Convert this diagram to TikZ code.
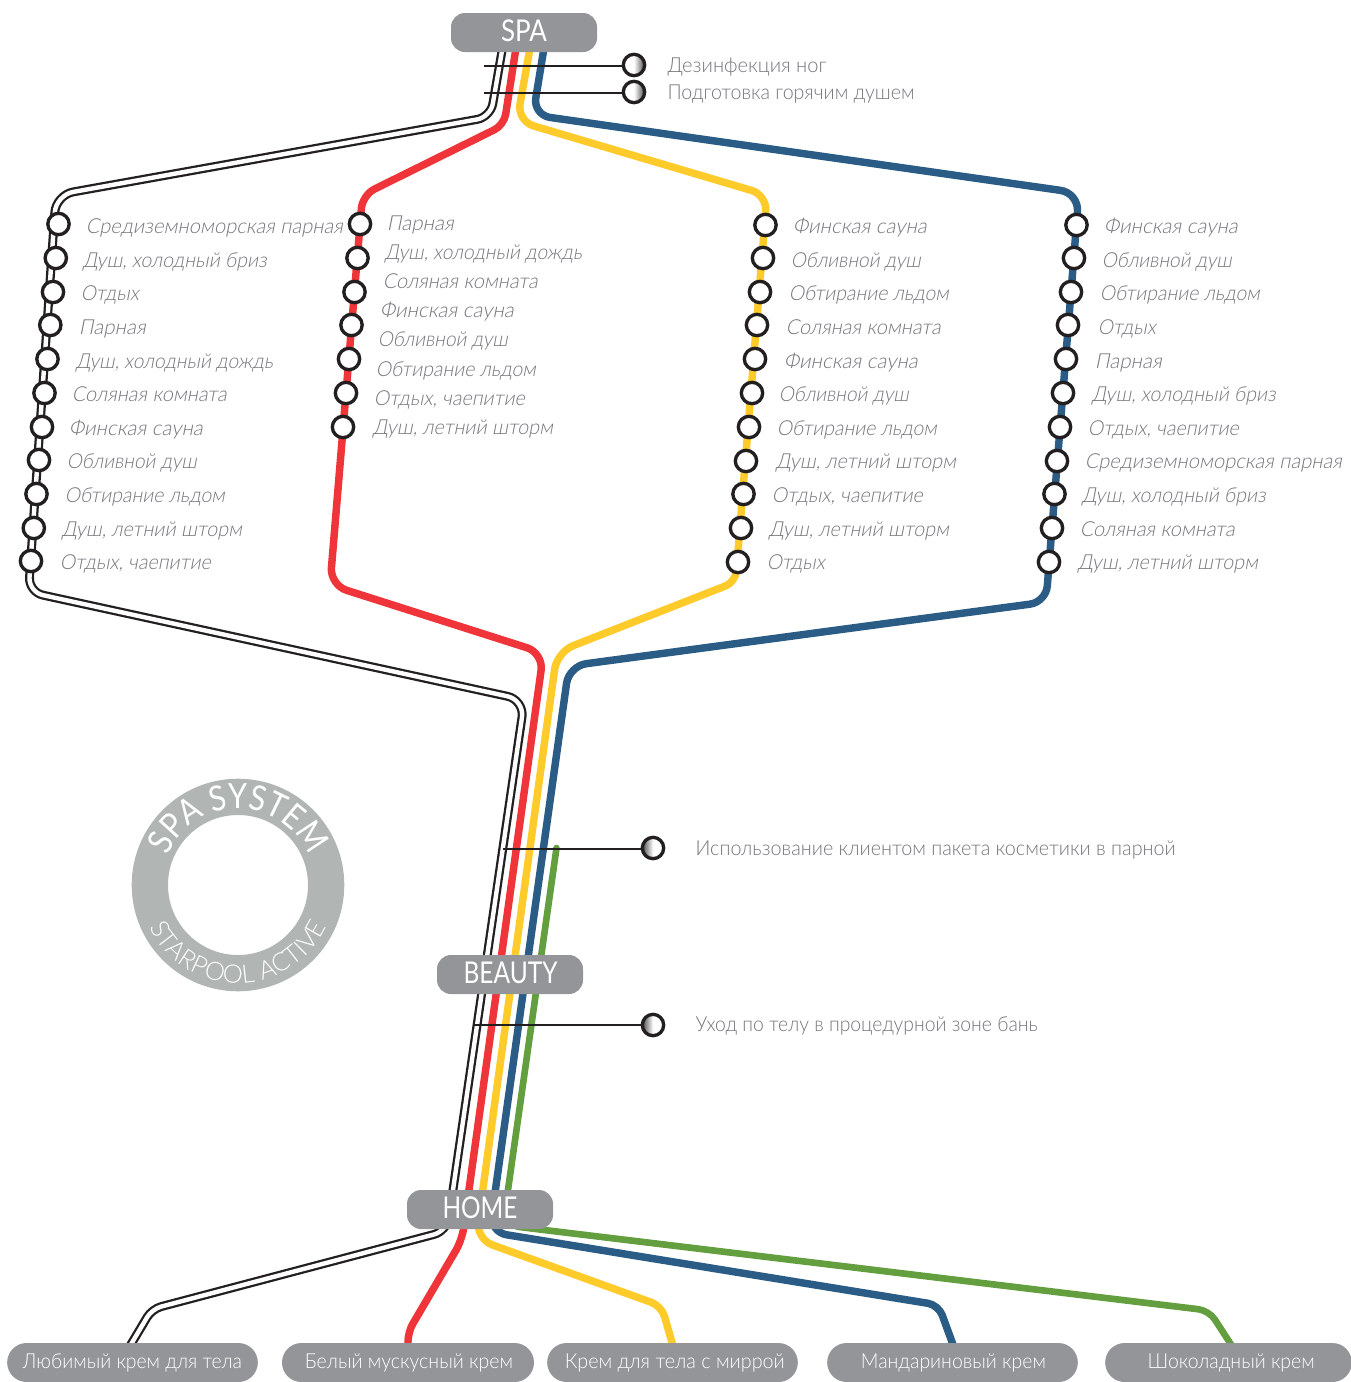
\documentclass[tikz,border=0pt]{standalone}
\usepackage{fontspec}
\usepackage{graphicx}
\setmainfont{Lato Light}
\newfontfamily\oblf[FakeSlant=0.2]{Lato Light}
\newfontfamily\pillf{Lato}
\newfontfamily\ringf[FakeStretch=0.88]{Lato}
\usetikzlibrary{decorations.text}
\definecolor{ink}{HTML}{231F20}
\definecolor{pillc}{HTML}{939598}
\definecolor{labc}{HTML}{737578}
\definecolor{redl}{HTML}{EF3539}
\definecolor{yell}{HTML}{FFCB2B}
\definecolor{blul}{HTML}{2A5C85}
\definecolor{grnl}{HTML}{649F3F}
\definecolor{ringc}{HTML}{B1B6B5}
\newdimen\pxu \pxu=0.75pt
\newcommand\fit[2]{\resizebox{#1\pxu}{\height}{#2}}
\newcommand\Sred{\fit{257}{Средиземноморская парная}}
\newcommand\Briz{\fit{184}{Душ, холодный бриз}}
\newcommand\Otd{\fit{58}{Отдых}}
\newcommand\Par{\fit{67}{Парная}}
\newcommand\Dozh{\fit{197}{Душ, холодный дождь}}
\newcommand\Sol{\fit{155}{Соляная комната}}
\newcommand\Fin{\fit{134}{Финская сауна}}
\newcommand\Obl{\fit{130}{Обливной душ}}
\newcommand\Obt{\fit{160}{Обтирание льдом}}
\newcommand\Sht{\fit{180}{Душ, летний шторм}}
\newcommand\Cha{\fit{151}{Отдых, чаепитие}}
\tikzset{
 metro/.style={line width=5.6pt},
 dbl/.style={draw=ink,line width=1.7pt,double=white,double distance=3.3pt},
 stn/.style={circle,draw=ink,line width=2.5pt,fill=white,minimum size=16pt,inner sep=0pt},
 ldr/.style={circle,draw=ink,line width=2.5pt,minimum size=16pt,inner sep=0pt},
 ldrR/.style={ldr,left color=white,right color=black!70,middle color=white},
 ldrL/.style={ldr,left color=black!70,right color=white,middle color=white},
 leader/.style={draw=ink,line width=1pt},
 pill/.style={rectangle,fill=pillc,text=white,minimum width=109.5pt,minimum height=29.25pt,inner sep=0pt,rounded corners=10.5pt,text height=16pt,text depth=2.2pt,font=\pillf\fontsize{22.5}{24}\selectfont},
 end/.style={rectangle,fill=pillc,text=white,minimum height=29.25pt,inner sep=0pt,rounded corners=14.6pt,text height=11.2pt,text depth=2pt,font=\fontsize{15.5}{18}\selectfont},
 lab/.style={anchor=base west,text=labc,inner sep=0pt,xshift=-1.1pt,yshift=-5.25pt,font=\oblf\fontsize{15.5}{18}\selectfont},
 note/.style={anchor=base west,text=labc,inner sep=0pt,xshift=-0.5pt,yshift=-5.25pt,font=\fontsize{15.5}{18}\selectfont},
}
\begin{document}
\begin{tikzpicture}[x=0.75pt,y=-0.75pt]
\useasboundingbox (0,0) rectangle (1351,1382);
% ring
\begin{scope}[shift={(238,885)},x=0.75pt,y=0.75pt]
\path[fill=ringc,even odd rule] (0,0) circle[radius=106.3] circle[radius=70];
\path[decorate,decoration={text along path,text color=white,text align=center,text={|\ringf\fontsize{26}{28}\selectfont|SPA SYSTEM}}] (165:76.5) arc[start angle=165,end angle=15,radius=76.5];
\path[decorate,decoration={text along path,text color=white,text align=center,text={|\fontsize{19}{22}\selectfont|STARPOOL ACTIVE}}] (208:98) arc[start angle=208,end angle=332,radius=98];
\end{scope}
% named line ends
\coordinate (dt) at (502.5,48); \coordinate (db) at (130,1346);
\coordinate (rt) at (516,48); \coordinate (rb) at (408,1346);
\coordinate (yt) at (530,48); \coordinate (yb) at (673,1346);
\coordinate (bt) at (544,48); \coordinate (bb) at (953.5,1346);
\coordinate (gt) at (556.5,848); \coordinate (gb) at (1232,1346);
% lines
\draw[dbl] (dt) [rounded corners=10pt] -- (490.5,117) [rounded corners=13pt] -- (56,195) [rounded corners=11pt] -- (28.5,592) [rounded corners=13pt] -- (524.5,700) [rounded corners=10pt] -- (447,1231) [rounded corners=7pt] -- (152,1309) -- (db);
\draw[metro,draw=redl] (rt) [rounded corners=8pt] -- (504,125) [rounded corners=10pt] -- (362.5,195) [rounded corners=13pt] -- (330,585) [rounded corners=13pt] -- (543.5,653) [rounded corners=9pt] -- (462,1240) [rounded corners=7pt] -- (408,1332) -- (rb);
\draw[metro,draw=yell] (yt) [rounded corners=13pt] -- (517,121) [rounded corners=12pt] -- (767,195) [rounded corners=8pt] -- (735.5,582) [rounded corners=13pt] -- (557,652) [rounded corners=13pt] -- (476,1239) [rounded corners=8pt] -- (661.5,1306) -- (yb);
\draw[metro,draw=blul] (bt) [rounded corners=13pt] -- (533,115) [rounded corners=14pt] -- (1079,193) [rounded corners=12pt] -- (1046,602) [rounded corners=13pt] -- (569,666) [rounded corners=13pt] -- (489.5,1232) [rounded corners=8pt] -- (938.5,1305) -- (bb);
\draw[metro,draw=grnl,line width=5pt,line cap=round] (gt) [rounded corners=13pt] -- (503,1225) [rounded corners=8pt] -- (1209,1310.5) -- (gb);
% pills
\node[pill] (spa) at (524,32.5) {\fit{46}{SPA}};
\node[pill] (beauty) at (510,974.5) {\kern0.8pt\fit{94}{BEAUTY}};
\node[pill] (home) at (480,1209.5) {\fit{75}{HOME}};
\node[end,minimum width=188pt] (e1) at (132.5,1362.5) {\fit{219}{Любимый крем для тела}};
\node[end,minimum width=189pt] (e2) at (408,1362.5) {\kern1.4pt\fit{208}{Белый мускусный крем}};
\node[end,minimum width=188pt] (e3) at (672.5,1362.5) {\kern3.5pt\fit{220}{Крем для тела с миррой}};
\node[end,minimum width=188pt] (e4) at (952.5,1362.5) {\kern1.4pt\fit{185}{Мандариновый крем}};
\node[end,minimum width=185pt] (e5) at (1228.5,1362.5) {\kern4pt\fit{167}{Шоколадный крем}};
% leaders
\coordinate (l1) at (484,66); \coordinate (l2) at (484,93); \coordinate (l3) at (503,849); \coordinate (l4) at (474,1025);
\node[ldrR] (c1) at (634,65) {};
\node[ldrR] (c2) at (634,92) {};
\node[ldrL] (c3) at (653,848) {};
\node[ldrL] (c4) at (653,1025) {};
\draw[leader] (l1) -- (c1.west|-l1);
\draw[leader] (l2) -- (c2.west|-l2);
\draw[leader] (l3) -- (c3.west|-l3);
\draw[leader] (l4) -- (c4.west|-l4);
\node[note] (n1) at (668,65) {\fit{159}{Дезинфекция ног}};
\node[note] (n2) at (668,92) {\fit{247}{Подготовка горячим душем}};
\node[note] (n3) at (696,848) {\fit{480}{Использование клиентом пакета косметики в парной}};
\node[note] (n4) at (696,1024) {\fit{342}{Уход по телу в процедурной зоне бань}};
% stations
\foreach \x/\y [count=\i] in {58.5/224,55.8/258,53/292,50.3/325,47.5/359,44.5/393,42/427,39/460,36.5/494,33.8/528,31/561}
  \node[stn] (a\i) at (\x,\y) {};
\foreach \x/\y [count=\i] in {360/224,357.5/258,354.5/292,351.5/325,349/359,346/393,343/427}
  \node[stn] (b\i) at (\x,\y) {};
\foreach \x/\y [count=\i] in {765.5/225,763/258,760/292,757/325,755/359,752/393,749/427,746/461,743.5/494,741/528,738/562}
  \node[stn] (c-\i) at (\x,\y) {};
\foreach \x/\y [count=\i] in {1076.5/225,1074/258,1071/292,1068/325,1066/359,1063/393,1060/427,1057/461,1054.5/494,1052/528,1049/562}
  \node[stn] (d\i) at (\x,\y) {};
% labels A
\foreach \x/\y/\t [count=\i] in {87/226/\Sred,84/260/\Briz,82/293/\Otd,80/327/\Par,77/361/\Dozh,73/394/\Sol,70/428/\Fin,68/461/\Obl,66/495/\Obt,63/529/\Sht,61/562/\Cha}
  \node[lab] (la\i) at (\x,\y) {\t};
% labels B
\foreach \x/\y/\t [count=\i] in {388/223/\Par,386/252/\Dozh,384/281/\Sol,381/310/\Fin,379/339/\Obl,377/369/\Obt,375/398/\Cha,374/427/\Sht}
  \node[lab] (lb\i) at (\x,\y) {\t};
% labels C
\foreach \x/\y/\t [count=\i] in {794/226/\Fin,792/260/\Obl,790/293/\Obt,787/327/\Sol,785/361/\Fin,780/394/\Obl,778/428/\Obt,777/461/\Sht,773/495/\Cha,770/529/\Sht,768/562/\Otd}
  \node[lab] (lc\i) at (\x,\y) {\t};
% labels D
\foreach \x/\y/\t [count=\i] in {1105/226/\Fin,1103/260/\Obl,1101/293/\Obt,1099/327/\Otd,1096/361/\Par,1093/394/\Briz,1089/428/\Cha,1086/461/\Sred,1083/495/\Briz,1081/529/\Sol,1079/562/\Sht}
  \node[lab] (ld\i) at (\x,\y) {\t};
\end{tikzpicture}
\end{document}
